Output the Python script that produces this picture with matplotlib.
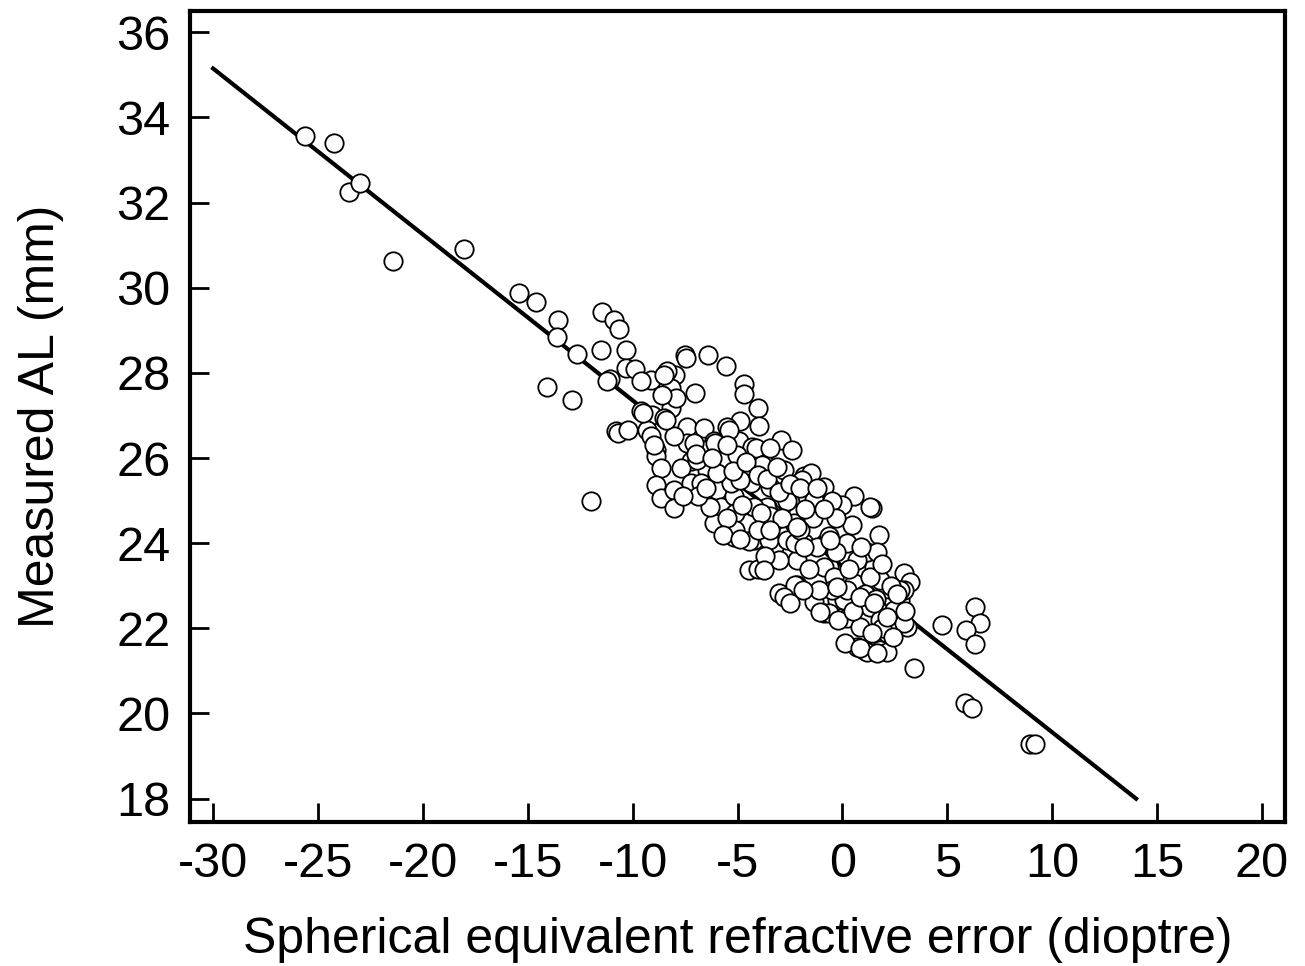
import matplotlib
matplotlib.use("Agg")
import matplotlib.pyplot as plt

plt.rcParams["font.family"] = ["Liberation Sans", "DejaVu Sans"]
plt.rcParams["axes.unicode_minus"] = False

# refraction (dioptre) and axial length (mm)
ser = [
    -25.6, -24.25, -23.5, -23.0, -21.4, -18.06, -15.44, -14.62, -13.54, -13.62,
    -12.63, -14.1, -12.9, -11.44, -10.9, -10.65, -11.52, -10.3, -10.33, -9.9,
    -11.1, -11.2, -10.8, -10.7, -10.2, -12.0,
    -7.52, -7.45, -6.41, -5.57, -4.7, -4.7, -7.05, -4.03, -3.98, -4.89,
    -7.98, -8.19, -8.35, -9.14, -9.62, -8.19, -7.95, -9.6, -9.1, -8.52,
    -9.3, -9.14, -8.9, -8.9, -8.67, -8.9, -8.67, -8.02, -8.02, -7.4,
    -6.6, -6.13, -7.4, -8.02, -7.24, -7.71, -7.24, -6.44, -5.97, -5.49,
    -4.94, -4.3, -3.75, -2.95, -2.40, -2.79, -1.84, -1.5, -3.43, -4.38,
    -5.0, -5.97, -5.81, -5.17, -5.17, -4.54, -3.59, -3.27, -2.48, -2.3,
    -1.52, -1.4, -4.22, -5.17, -6.1,
    -8.5, -8.58, -9.5, -8.43, -9.0,
    -6.5, -4.14, -3.43, -1.92, -0.89, -1.29, -2.79, -4.38, -5.33, -5.1,
    -3.43, -2.71, -2.32, -0.25, 0.54, 1.41, 0.46, 1.73, 0.22, -0.81,
    -1.84, -3.27, -4.46, -4.0, -2.16, -0.63, 0.70, 1.49, -3.03, -2.16,
    -1.37, -0.89, -0.25, 0.22, 0.86, 0.7, 1.02, 1.81, 2.13, 2.92,
    3.24, 3.08, 2.76, 2.1, 3.4, 4.75,
    2.92, 6.33, 6.57, 5.9, 6.33, 5.86, 6.17, 8.95, 9.19, 1.17,
    0.62, 2.13, 2.29, 1.65, 2.6,
    -5.41, -6.05, -7.08, -6.92, -5.73, -5.02, -3.82, -6.76, -5.97, -4.86,
    -2.79, -1.68, -4.22, -3.43, -5.1, -4.46, -3.51, -2.63,
    -1.37, -2.63, -0.01, 1.33, -0.65, -2.24, -0.89, 0.7, 1.65, 2.76,
    1.81, 0.54, -0.41, -2.24, -2.79, 0.06, 1.33, 2.44, -0.65, 1.81,
    2.92, 1.17,
    -6.3, -6.9, -6.5, -7.6, -7.0, -6.2, -5.5, -5.2, -4.6, -4.0,
    -3.6, -3.1, -3.0, -2.5, -2.0, -1.2, -0.5, -0.3, -0.9, -1.8,
    -2.0, -2.9, -3.9, -4.0, -4.8, -5.5, -5.7, -4.9, -3.0, -3.7,
    -1.2, -1.6, -0.3, 0.3, 0.9, 1.3, 1.1, 0.2, -0.5, -1.1,
    -1.9, -2.5, -0.2, 0.5, 1.6, 1.9, 2.4, 1.4, 0.1, 1.9,
    2.3, 2.6, 3.0,
    -3.75, -1.05, 0.86, 1.65, -2.16, -3.43, -0.57, -1.84, -0.25, 0.86,
    1.49, 2.13,
]
al = [
    33.57, 33.4, 32.25, 32.45, 30.62, 30.92, 29.87, 29.66, 29.25, 28.85,
    28.45, 27.68, 27.37, 29.43, 29.24, 29.03, 28.53, 28.53, 28.12, 28.08,
    27.86, 27.8, 26.64, 26.6, 26.67, 25.0,
    28.41, 28.36, 28.42, 28.17, 27.74, 27.5, 27.53, 27.18, 26.76, 26.88,
    27.96, 27.65, 28.04, 27.84, 27.8, 27.18, 27.4, 27.1, 27.02, 26.95,
    26.67, 26.51, 26.2, 26.04, 25.76, 25.37, 25.06, 25.25, 24.82, 26.74,
    26.7, 26.39, 26.35, 26.51, 25.92, 25.76, 25.41, 25.72, 25.57, 26.74,
    26.39, 26.27, 25.88, 26.43, 26.18, 25.72, 25.57, 25.65, 25.33, 25.6,
    25.96, 25.25, 24.86, 25.1, 24.63, 24.47, 24.86, 24.39, 25.02, 24.7,
    25.1, 24.6, 24.08, 24.15, 24.48,
    27.96, 27.47, 27.06, 26.9, 26.31,
    26.2, 26.24, 26.24, 25.49, 25.33, 25.02, 24.94, 25.41, 25.41, 24.71,
    24.47, 24.19, 24.47, 24.86, 25.1, 24.82, 24.43, 24.19, 24.0, 24.0,
    24.0, 23.92, 23.37, 23.4, 23.61, 23.45, 23.41, 23.45, 22.82, 23.02,
    22.63, 22.35, 22.67, 22.24, 22.04, 21.57, 21.49, 21.49, 21.88, 23.29,
    23.1, 22.04, 22.67, 22.5, 21.06, 22.08,
    22.9, 22.49, 22.12, 21.96, 21.63, 20.24, 20.14, 19.29, 19.29, 23.8,
    22.96, 21.45, 22.04, 22.47, 22.39,
    26.67, 26.35, 26.35, 25.96, 25.92, 26.08, 25.84, 25.41, 25.65, 25.49,
    25.02, 25.1, 24.86, 24.63, 24.31, 24.04, 24.08, 24.08,
    25.02, 24.98, 24.9, 24.86, 24.16, 24.0, 23.45, 23.61, 23.8, 22.9,
    23.14, 23.06, 23.21, 23.02, 22.74, 22.67, 22.51, 22.43, 22.35, 22.2,
    22.12, 21.45,
    24.85, 25.1, 25.3, 25.1, 26.1, 26.0, 26.3, 25.7, 25.9, 25.6,
    25.5, 25.8, 25.2, 25.4, 25.3, 25.3, 25.0, 24.6, 24.8, 24.8,
    24.3, 24.6, 24.7, 24.3, 24.9, 24.6, 24.2, 24.1, 23.6, 23.7,
    23.9, 23.4, 23.8, 23.4, 23.9, 23.2, 22.8, 22.9, 22.9, 22.9,
    22.9, 22.6, 22.2, 22.4, 22.7, 22.0, 21.8, 21.9, 21.65, 23.5,
    23.0, 22.8, 22.4,
    23.37, 22.39, 21.53, 21.41, 24.39, 24.31, 24.08, 23.92, 22.98, 22.74,
    22.59, 22.27,
]

# regression line end points
fit_x = [-30, 14]
fit_y = [35.15, 18.0]

fig = plt.figure(figsize=(13.05, 9.66), dpi=100)
ax = fig.add_axes([0.1456, 0.149, 0.8391, 0.8396])

ax.plot(fit_x, fit_y, color="black", linewidth=3.0, zorder=1)
ax.scatter(ser, al, s=175, facecolors="white", edgecolors="black",
           linewidths=1.3, zorder=2)

ax.set_xlim(-31.1, 21.1)
ax.set_ylim(17.45, 36.5)
ax.set_xticks(range(-30, 21, 5))
ax.set_yticks(range(18, 37, 2))

for side in ["top", "right", "bottom", "left"]:
    ax.spines[side].set_linewidth(3)
ax.tick_params(direction="in", length=14, width=2, labelsize=35, pad=14)

ax.set_xlabel("Spherical equivalent refractive error (dioptre)", fontsize=36, labelpad=22)
ax.set_ylabel("Measured AL (mm)", fontsize=36, labelpad=38)

fig.savefig("out.png", dpi=100)
